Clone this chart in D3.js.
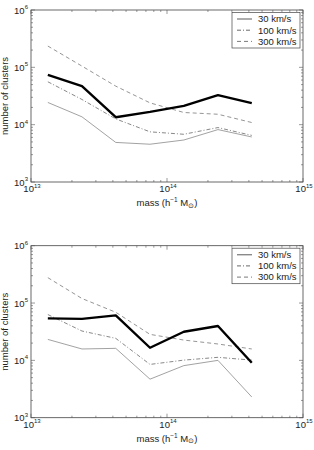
<!DOCTYPE html>
<html>
<head>
<meta charset="utf-8">
<script src="https://cdn.jsdelivr.net/npm/d3@7"></script>
<style>
  body { margin: 0; background: #fff; }
  svg { display: block; font-family: "Liberation Sans", Arial, sans-serif; }
</style>
</head>
<body>
<div id="chart"></div>
<script>
// bin centres (solar masses / h)
var masses = [1.33e13, 2.37e13, 4.2e13, 7.5e13, 1.33e14, 2.37e14, 4.2e14];

// top panel
var topThick = [7.4e4, 4.7e4, 1.35e4, 1.67e4, 2.13e4, 3.27e4, 2.37e4];
var top30 = [2.44e4, 1.37e4, 4.9e3, 4.56e3, 5.4e3, 8.2e3, 6.1e3];
var top100 = [5.6e4, 2.75e4, 1.26e4, 7.5e3, 6.8e3, 8.9e3, 6.5e3];
var top300 = [2.35e5, 1.05e5, 4.7e4, 2.4e4, 1.63e4, 1.52e4, 1.09e4];

// bottom panel
var botThick = [5.4e4, 5.3e4, 6.1e4, 1.66e4, 3.16e4, 3.97e4, 9.1e3];
var bot30 = [2.32e4, 1.58e4, 1.62e4, 4.7e3, 8.1e3, 1.0e4, 2.3e3];
var bot100 = [6.3e4, 3.25e4, 2.42e4, 8.5e3, 1.01e4, 1.13e4, 1.01e4];
var bot300 = [2.77e5, 1.2e5, 6.9e4, 2.84e4, 2.26e4, 1.93e4, 1.58e4];

var legendLabels = ["30 km/s", "100 km/s", "300 km/s"];
var xDecades = [13, 14, 15];
var yDecades = [3, 4, 5, 6];

var svgWidth = 314;
var svgHeight = 450;

var svg = d3.select("#chart")
  .append("svg")
  .attr("width", svgWidth)
  .attr("height", svgHeight);

var plotLeft = 31, plotRight = 303;
var plotH = 172;
var fs = 9.5;

// line styles per series
var styles = [
  { color: "#8a8a8a", width: 0.8, dash: null },
  { color: "#6a6a6a", width: 0.8, dash: "4,2,1,2" },
  { color: "#7a7a7a", width: 0.8, dash: "4,3" }
];

function drawPanel(top, thick, s30, s100, s300) {
  var g = svg.append("g").attr("transform", `translate(0, ${top})`);

  var x = d3.scaleLog().domain([1e13, 1e15]).range([plotLeft, plotRight]);
  var y = d3.scaleLog().domain([1e3, 1e6]).range([plotH, 0]);

  // frame
  g.append("rect")
    .attr("x", plotLeft).attr("y", 0)
    .attr("width", plotRight - plotLeft).attr("height", plotH)
    .attr("fill", "none").attr("stroke", "#444").attr("stroke-width", 0.8);

  // ticks, inward on all four sides
  var xt = x.ticks();
  var yt = y.ticks();
  function isMajor(v) { return Math.abs(Math.log10(v) - Math.round(Math.log10(v))) < 1e-6; }

  xt.forEach(function (v) {
    var len = isMajor(v) ? 4 : 2;
    var px = x(v);
    g.append("line").attr("x1", px).attr("x2", px).attr("y1", plotH).attr("y2", plotH - len)
      .attr("stroke", "#555").attr("stroke-width", 0.6);
    g.append("line").attr("x1", px).attr("x2", px).attr("y1", 0).attr("y2", len)
      .attr("stroke", "#555").attr("stroke-width", 0.6);
  });
  yt.forEach(function (v) {
    var len = isMajor(v) ? 4 : 2;
    var py = y(v);
    g.append("line").attr("x1", plotLeft).attr("x2", plotLeft + len).attr("y1", py).attr("y2", py)
      .attr("stroke", "#555").attr("stroke-width", 0.6);
    g.append("line").attr("x1", plotRight).attr("x2", plotRight - len).attr("y1", py).attr("y2", py)
      .attr("stroke", "#555").attr("stroke-width", 0.6);
  });

  // tick labels
  xDecades.forEach(function (e) {
    var t = g.append("text")
      .attr("x", x(Math.pow(10, e)) + 1)
      .attr("y", plotH + 10)
      .attr("text-anchor", "middle")
      .attr("font-size", fs)
      .attr("fill", "#222");
    t.append("tspan").text("10");
    t.append("tspan").attr("dy", -4.5).attr("font-size", 6).text(e);
  });
  yDecades.forEach(function (e) {
    var t = g.append("text")
      .attr("x", plotLeft - 3)
      .attr("y", y(Math.pow(10, e)) + 3.5)
      .attr("text-anchor", "end")
      .attr("font-size", fs)
      .attr("fill", "#222");
    t.append("tspan").text("10");
    t.append("tspan").attr("dy", -4.5).attr("font-size", 6).text(e);
  });

  // axis labels
  g.append("text")
    .attr("transform", `translate(8, ${plotH / 2}) rotate(-90)`)
    .attr("text-anchor", "middle")
    .attr("font-size", fs)
    .attr("fill", "#222")
    .text("number of clusters");

  var xl = g.append("text")
    .attr("x", x(1e14))
    .attr("y", plotH + 24)
    .attr("text-anchor", "middle")
    .attr("font-size", fs)
    .attr("fill", "#222");
  xl.append("tspan").text("mass (h");
  xl.append("tspan").attr("dy", -4).attr("font-size", 6.5).text("\u22121");
  xl.append("tspan").attr("dy", 4).text(" M");
  xl.append("tspan").attr("dy", 1.5).attr("font-size", 7).text("\u2299");
  xl.append("tspan").attr("dy", -1.5).text(")");

  var line = d3.line()
    .x(function (d, i) { return x(masses[i]); })
    .y(function (d) { return y(d); });

  [s30, s100, s300].forEach(function (s, i) {
    g.append("path")
      .attr("d", line(s))
      .attr("fill", "none")
      .attr("stroke", styles[i].color)
      .attr("stroke-width", styles[i].width)
      .attr("stroke-dasharray", styles[i].dash);
  });

  g.append("path")
    .attr("d", line(thick))
    .attr("fill", "none")
    .attr("stroke", "#000")
    .attr("stroke-width", 2.4)
    .attr("stroke-linejoin", "round");

  // legend
  var lg = g.append("g").attr("transform", "translate(232, 2.5)");
  lg.append("rect")
    .attr("width", 68).attr("height", 35.5)
    .attr("fill", "#fff").attr("stroke", "#444").attr("stroke-width", 0.7);
  legendLabels.forEach(function (lab, i) {
    var ly = 6.5 + i * 11.2;
    lg.append("line")
      .attr("x1", 5).attr("x2", 20).attr("y1", ly).attr("y2", ly)
      .attr("stroke", styles[i].color)
      .attr("stroke-width", i === 0 ? 1.4 : 1)
      .attr("stroke-dasharray", styles[i].dash);
    lg.append("text")
      .attr("x", 26).attr("y", ly + 3.3)
      .attr("font-size", fs)
      .attr("fill", "#222")
      .text(lab);
  });
}

drawPanel(10, topThick, top30, top100, top300);
drawPanel(245.7, botThick, bot30, bot100, bot300);
</script>
</body>
</html>
